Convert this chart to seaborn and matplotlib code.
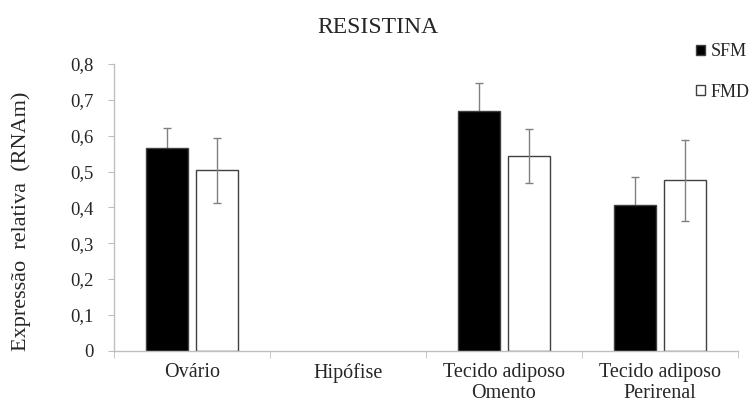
import numpy as np
import pandas as pd
import matplotlib
matplotlib.use("Agg")
import matplotlib.pyplot as plt
import seaborn as sns
from matplotlib.ticker import FuncFormatter, FixedLocator

categories = ["Ovário", "Hipófise", "Tecido adiposo\nOmento", "Tecido adiposo\nPerirenal"]
groups = ["SFM", "FMD"]
sfm_values = [0.567, np.nan, 0.669, 0.406]
fmd_values = [0.504, np.nan, 0.543, 0.476]
sfm_err = [0.055, np.nan, 0.078, 0.078]
fmd_err = [0.091, np.nan, 0.076, 0.113]
yticks = [0, 0.1, 0.2, 0.3, 0.4, 0.5, 0.6, 0.7, 0.8]

sns.set_style("white")
plt.rcParams['font.family'] = ['Liberation Serif', 'DejaVu Serif']

df = pd.DataFrame({
    "cat": categories * 2,
    "grupo": [groups[0]] * 4 + [groups[1]] * 4,
    "val": sfm_values + fmd_values,
})

fig = plt.figure(figsize=(7.56, 4.03), dpi=100)
ax = fig.add_axes([0.151, 0.130, 0.825, 0.711])

sns.barplot(data=df.dropna(), x="cat", y="val", hue="grupo", order=categories,
            hue_order=groups, palette={"SFM": "black", "FMD": "white"},
            width=0.64, gap=0.16, edgecolor="#404040", linewidth=1.0,
            errorbar=None, ax=ax, legend=True, zorder=2)

# error bars at bar centers
for cont, errs, z in zip(ax.containers, [sfm_err, fmd_err], [1, 3]):
    for bar in cont:
        h = bar.get_height()
        if np.isnan(h) or h == 0:
            continue
        xc = bar.get_x() + bar.get_width() / 2
        e = errs[int(round(xc))]
        ax.errorbar(xc, h, yerr=e, color="#808080", lw=1.0, capsize=3, capthick=1.0,
                    fmt="none", zorder=z)

ax.set_ylim(0, 0.8)
ax.set_xlim(-0.5, len(categories) - 0.5)
ax.yaxis.set_major_locator(FixedLocator(yticks))
ax.yaxis.set_major_formatter(FuncFormatter(lambda v, p: ("%g" % round(v, 1)).replace(".", ",")))
ax.tick_params(axis="y", which="major", length=4, color="#bfbfbf", labelsize=13.5, pad=11, left=True)
ax.tick_params(axis="x", which="major", length=0, labelsize=14.5, pad=9)
ax.xaxis.set_minor_locator(FixedLocator([i + 0.5 for i in range(-1, len(categories))]))
ax.tick_params(axis="x", which="minor", length=5, color="#bfbfbf", bottom=True)
for lbl in ax.get_xticklabels():
    lbl.set_linespacing(1.15)

for s in ["top", "right"]:
    ax.spines[s].set_visible(False)
for s in ["left", "bottom"]:
    ax.spines[s].set_color("#bfbfbf")
    ax.spines[s].set_linewidth(1.0)

ax.set_xlabel("")
ax.set_ylabel("Expressão  relativa  (RNAm)", fontsize=16)
ax.yaxis.set_label_coords(-0.133, 0.45)

fig.suptitle("RESISTINA", x=0.5, y=0.932, va="center", fontsize=17)

handles, labels = ax.get_legend_handles_labels()
ax.legend_.remove()
fig.legend(handles, labels, loc="upper left", bbox_to_anchor=(0.921, 0.893), frameon=False,
           fontsize=13, handlelength=0.5, handleheight=0.5, handletextpad=0.3,
           labelspacing=1.3, borderaxespad=0, borderpad=0)

fig.savefig("out.png", dpi=100)
